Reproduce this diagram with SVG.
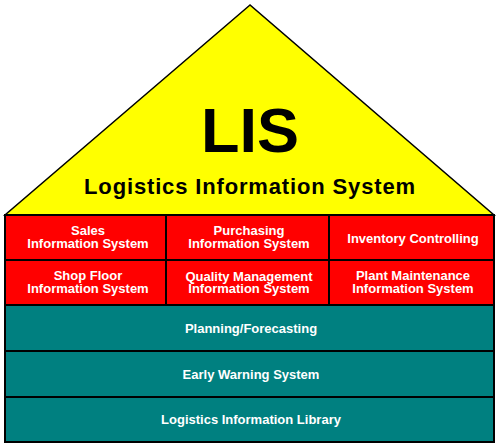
<svg xmlns="http://www.w3.org/2000/svg" width="499" height="446" viewBox="0 0 499 446">
<style>
.box{stroke:#000;stroke-width:2}
.red{fill:#ff0000}
.teal{fill:#008080}
.t{font-family:"Liberation Sans",Arial,sans-serif;font-weight:bold;fill:#fff;font-size:13px;text-anchor:middle}
.h{font-family:"Liberation Sans",Arial,sans-serif;font-weight:bold;fill:#000;text-anchor:middle}
</style>
<rect width="499" height="446" fill="#fff"/>
<g id="roof">
<polygon points="250,5 5,215 494,215" fill="#ffff00" stroke="#000" stroke-width="1.5"/>
<text class="h" x="250" y="152" font-size="63">LIS</text>
<text class="h" x="250" y="194" font-size="22" letter-spacing="0.85">Logistics Information System</text>
</g>
<g id="sales"><rect class="box red" x="5" y="215" width="161" height="45"/>
<text class="t" x="88" y="235">Sales</text><text class="t" x="88" y="248">Information System</text></g>
<g id="purchasing"><rect class="box red" x="166" y="215" width="163" height="45"/>
<text class="t" x="249" y="235">Purchasing</text><text class="t" x="249" y="248">Information System</text></g>
<g id="inventory"><rect class="box red" x="329" y="215" width="165" height="45"/>
<text class="t" x="413" y="243">Inventory Controlling</text></g>
<g id="shopfloor"><rect class="box red" x="5" y="260" width="161" height="45"/>
<text class="t" x="88" y="280">Shop Floor</text><text class="t" x="88" y="293">Information System</text></g>
<g id="quality"><rect class="box red" x="166" y="260" width="163" height="45"/>
<text class="t" x="249" y="281">Quality Management</text><text class="t" x="249" y="293">Information System</text></g>
<g id="plant"><rect class="box red" x="329" y="260" width="165" height="45"/>
<text class="t" x="413" y="280">Plant Maintenance</text><text class="t" x="413" y="293">Information System</text></g>
<g id="planning"><rect class="box teal" x="5" y="305" width="489" height="46"/>
<text class="t" x="251" y="333">Planning/Forecasting</text></g>
<g id="earlywarning"><rect class="box teal" x="5" y="351" width="489" height="46"/>
<text class="t" x="251" y="379">Early Warning System</text></g>
<g id="library"><rect class="box teal" x="5" y="397" width="489" height="45"/>
<text class="t" x="251" y="424">Logistics Information Library</text></g>
<g id="connectors"/>
</svg>
